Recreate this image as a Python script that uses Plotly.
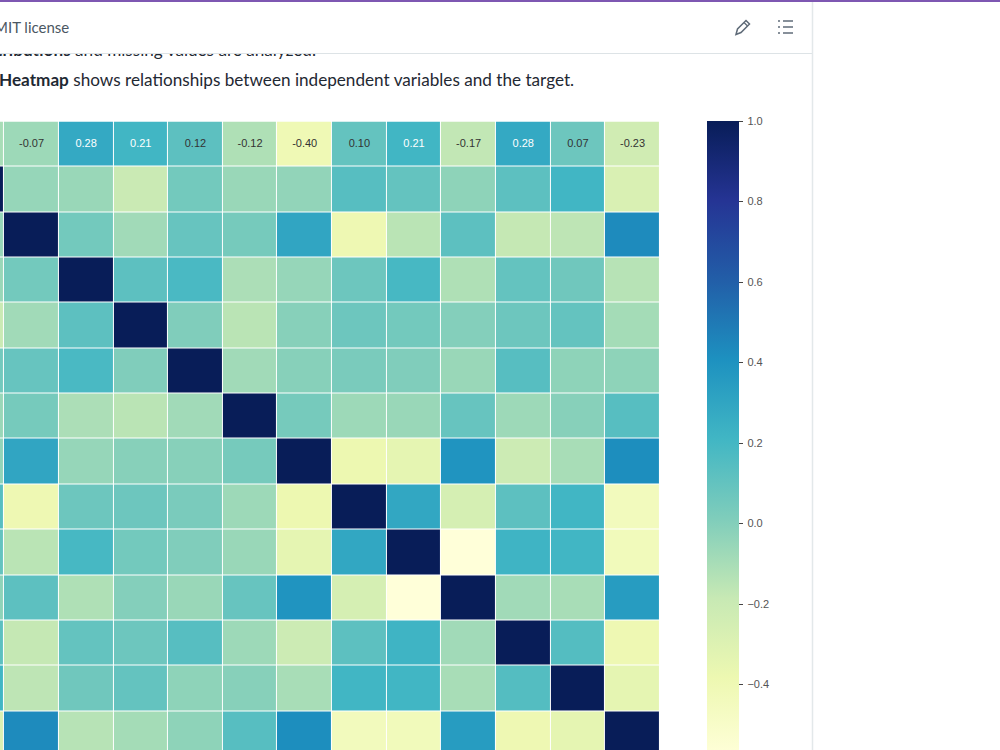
import plotly.graph_objects as go

FEATURES = ["age", "sex", "cp", "trestbps", "chol", "fbs", "restecg",
            "thalach", "exang", "oldpeak", "slope", "ca", "thal", "target"]

age = [1.00, -0.10, -0.07, 0.28, 0.21, 0.12, -0.12, -0.40, 0.10, 0.21, -0.17, 0.28, 0.07, -0.23]
sex = [-0.10, 1.00, -0.05, -0.06, -0.20, 0.05, -0.06, -0.04, 0.14, 0.10, -0.03, 0.12, 0.21, -0.28]
cp = [-0.07, -0.05, 1.00, 0.05, -0.08, 0.09, 0.04, 0.30, -0.39, -0.15, 0.12, -0.18, -0.16, 0.43]
trestbps = [0.28, -0.06, 0.05, 1.00, 0.12, 0.18, -0.11, -0.05, 0.07, 0.19, -0.12, 0.10, 0.06, -0.14]
chol = [0.21, -0.20, -0.08, 0.12, 1.00, 0.01, -0.15, -0.01, 0.07, 0.05, -0.00, 0.07, 0.10, -0.09]
fbs = [0.12, 0.05, 0.09, 0.18, 0.01, 1.00, -0.08, -0.01, 0.03, 0.01, -0.06, 0.14, -0.03, -0.03]
restecg = [-0.12, -0.06, 0.04, -0.11, -0.15, -0.08, 1.00, 0.04, -0.07, -0.06, 0.09, -0.07, -0.01, 0.14]
thalach = [-0.40, -0.04, 0.30, -0.05, -0.01, -0.01, 0.04, 1.00, -0.38, -0.34, 0.39, -0.21, -0.10, 0.42]
exang = [0.10, 0.14, -0.39, 0.07, 0.07, 0.03, -0.07, -0.38, 1.00, 0.29, -0.26, 0.12, 0.21, -0.44]
oldpeak = [0.21, 0.10, -0.15, 0.19, 0.05, 0.01, -0.06, -0.34, 0.29, 1.00, -0.58, 0.22, 0.21, -0.43]
slope = [-0.17, -0.03, 0.12, -0.12, -0.00, -0.06, 0.09, 0.39, -0.26, -0.58, 1.00, -0.08, -0.10, 0.35]
ca = [0.28, 0.12, -0.18, 0.10, 0.07, 0.14, -0.07, -0.21, 0.12, 0.22, -0.08, 1.00, 0.15, -0.39]
thal = [0.07, 0.21, -0.16, 0.06, 0.10, -0.03, -0.01, -0.10, 0.21, 0.21, -0.10, 0.15, 1.00, -0.34]
target = [-0.23, -0.28, 0.43, -0.14, -0.09, -0.03, 0.14, 0.42, -0.44, -0.43, 0.35, -0.39, -0.34, 1.00]

matrix = [age, sex, cp, trestbps, chol, fbs, restecg,
          thalach, exang, oldpeak, slope, ca, thal, target]

COLORBAR_TICKS = [-0.4, -0.2, 0.0, 0.2, 0.4, 0.6, 0.8, 1.0]
COLORBAR_LABELS = ["\u2005\u22120.4", "\u2005\u22120.2", "\u20050.0", "\u20050.2",
                   "\u20050.4", "\u20050.6", "\u20050.8", "\u20051.0"]

YLGNBU = ["#ffffd9", "#edf8b1", "#c7e9b4", "#7fcdbb", "#41b6c4",
          "#1d91c0", "#225ea8", "#253494", "#081d58"]
colorscale = [[i / (len(YLGNBU) - 1), c] for i, c in enumerate(YLGNBU)]

W, H = 1000, 750
CHROME = "#5f6b78"
TRANSPARENT = "rgba(0,0,0,0)"


def px(x):
    return x / W


def py(y):
    return 1 - y / H


def path(points, close=False):
    d = " ".join(("M" if i == 0 else "L") + f"{px(x):.5f},{py(y):.5f}" for i, (x, y) in enumerate(points))
    return d + (" Z" if close else "")


fig = go.Figure()

fig.add_trace(go.Heatmap(
    z=matrix, x=FEATURES, y=FEATURES,
    colorscale=colorscale, zmin=-0.58, zmax=1.0,
    xgap=1, ygap=1, hoverongaps=False,
    colorbar=dict(
        x=707 / W, xanchor="left", y=py(121), yanchor="top", ypad=0, xpad=0,
        thickness=32, thicknessmode="pixels", len=636, lenmode="pixels",
        outlinewidth=0, ticks="outside", ticklen=4, tickwidth=1, tickcolor="#444444",
        tickmode="array", tickvals=COLORBAR_TICKS, ticktext=COLORBAR_LABELS,
        tickfont=dict(family="Liberation Sans", size=11, color="#555555"),
    ),
))

# Only the first row of the matrix carries printed values.
fig.add_trace(go.Scatter(
    x=FEATURES, y=[FEATURES[0]] * len(FEATURES), mode="text",
    text=[f"{v:.2f}" for v in age],
    textposition="middle center",
    textfont=dict(family="Liberation Sans", size=11,
                  color=["#ffffff" if 0.15 < v else "#333333" for v in age]),
    showlegend=False, hoverinfo="skip",
))

# Page copy sits on its own pixel-scaled axes so the header edge clips it.
fig.add_trace(go.Scatter(
    x=[316, -1], y=[52, 81.5], xaxis="x2", yaxis="y2", mode="text",
    text=["<b>Distributions</b> and missing values are analyzed.",
          "<b>Heatmap</b> shows relationships between independent variables and the target."],
    textposition=["middle left", "middle right"],
    textfont=dict(family="Lato", size=17.15, color="#1f2933"),
    showlegend=False, hoverinfo="skip",
))

shapes = [
    dict(type="rect", xref="paper", yref="paper", x0=0, x1=1, y0=py(2), y1=1,
         fillcolor="#7e57b2", line_width=0),
    dict(type="line", xref="paper", yref="paper", x0=0, x1=px(813), y0=py(53.5), y1=py(53.5),
         line=dict(color="#dde3e6", width=1)),
    dict(type="line", xref="paper", yref="paper", x0=px(812.5), x1=px(812.5), y0=0, y1=py(2),
         line=dict(color="#e3e8ea", width=1.5)),
    # pencil icon
    dict(type="path", xref="paper", yref="paper",
         path=path([(736, 34.5), (737.5, 29), (746, 20.5), (749.5, 24), (741, 32.5)], close=True),
         line=dict(color=CHROME, width=1.5)),
    dict(type="line", xref="paper", yref="paper", x0=px(744), x1=px(747.5), y0=py(22.5), y1=py(26),
         line=dict(color=CHROME, width=1.2)),
]
# list icon: three bullets with three rules
for y in (21, 27, 33):
    shapes.append(dict(type="line", xref="paper", yref="paper", x0=px(783), x1=px(793), y0=py(y), y1=py(y),
                       line=dict(color=CHROME, width=1.5)))
    shapes.append(dict(type="line", xref="paper", yref="paper", x0=px(778), x1=px(780), y0=py(y), y1=py(y),
                       line=dict(color=CHROME, width=1.5)))

fig.update_layout(
    width=W, height=H,
    margin=dict(l=0, r=0, t=0, b=0, autoexpand=False),
    paper_bgcolor="#ffffff", plot_bgcolor=TRANSPARENT,
    showlegend=False,
    shapes=shapes,
    xaxis=dict(domain=[0, px(659.85)], range=[1.423, 13.5], showticklabels=False, ticks="",
               showgrid=False, zeroline=False, type="category",
               categoryorder="array", categoryarray=FEATURES),
    yaxis=dict(domain=[0, py(121.5)], range=[13.359, -0.5], showticklabels=False, ticks="",
               showgrid=False, zeroline=False, type="category",
               categoryorder="array", categoryarray=FEATURES),
    xaxis2=dict(domain=[0, 1], range=[0, W], visible=False, anchor="y2"),
    yaxis2=dict(domain=[0, py(54)], range=[H, 54], visible=False, anchor="x2"),
    annotations=[dict(
        xref="paper", yref="paper", x=px(70.5), y=py(27), xanchor="right", yanchor="middle",
        text="MIT license", showarrow=False,
        font=dict(family="Lato", size=15, color="#4b5763"),
    )],
)

fig.write_html("out.html")
